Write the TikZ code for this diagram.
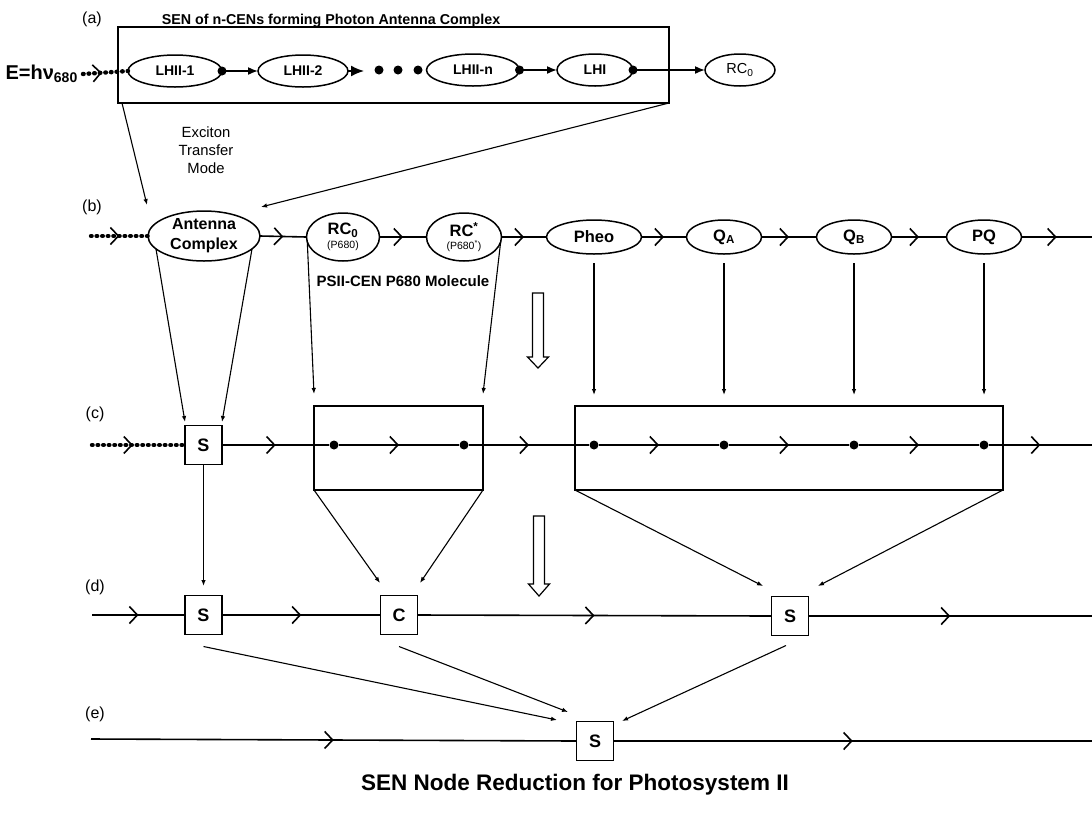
\documentclass[tikz,border=0pt]{standalone}
\usepackage{fontspec}
\setmainfont{Liberation Sans}
\usetikzlibrary{arrows.meta,decorations.markings,shapes.geometric}
\newcommand{\myfs}[1]{\fontsize{#1}{#1}\selectfont}
\begin{document}
\begin{tikzpicture}[x=1pt,y=-1pt,
  ln/.style={line width=1.6pt},
  thinar/.style={line width=1.1pt,-{Latex[length=6pt,width=4.5pt]}},
  ell/.style={ellipse,draw,line width=1.5pt,inner sep=0pt,outer sep=0pt},
  sq/.style={rectangle,draw,line width=1.5pt,inner sep=0pt,outer sep=0pt,minimum width=37pt,minimum height=39pt,font=\myfs{18}\bfseries},
  frame/.style={rectangle,draw,line width=1.5pt,inner sep=0pt,outer sep=0pt},
  dot/.style={circle,fill,inner sep=0pt,minimum size=9pt},
  beads/.style={line width=4.4pt,dash pattern=on 0.6pt off 5pt,line cap=round},
  chev/.style={postaction={decorate},decoration={markings,mark=at position #1 with {\arrow{Straight Barb[length=8pt,width=17pt,line width=1.6pt]}}}},
  chev/.default=0.5,
  fa/.style={ln,-{Latex[length=10pt,width=8pt]}},
  lbl/.style={font=\myfs{16}},
  bl/.style={font=\myfs{16.5}\bfseries,align=center},
  al/.style={font=\myfs{14}\bfseries},
]
\useasboundingbox (0,0) rectangle (1092,812);

% ---------- row (a)
\node[lbl] (la) at (92,19) {(a)};
\node[font=\myfs{14.3}\bfseries] (ttlA) at (331,21) {SEN of n-CENs forming Photon Antenna Complex};
\node[frame,minimum width=551pt,minimum height=76pt] (boxA) at (393.5,65) {};
\node[font=\myfs{20}\bfseries,anchor=east,inner sep=0pt] (E) at (78,74) {E=hν\textsubscript{680}};
\node[ell,al,minimum width=94pt,minimum height=32pt] (L1) at (175,71) {LHII-1};
\node[ell,al,minimum width=90pt,minimum height=32pt] (L2) at (303,71) {LHII-2};
\node[ell,al,minimum width=93pt,minimum height=32pt] (Ln) at (473,70) {LHII-n};
\node[ell,al,minimum width=76pt,minimum height=32pt] (LH) at (595,70) {LHI};
\node[ell,minimum width=70pt,minimum height=32pt,font=\myfs{14.5}] (RCa) at (740,70) {RC\textsubscript{0}};
\node[dot] (d1) at (379,70) {};
\node[dot] (d2) at (398,70) {};
\node[dot] (d3) at (418,70) {};
\coordinate (t2) at (364,71);

\draw[beads,chev=0.42] ([xshift=5pt]E.east) -- (L1.west);
\node[dot] at (L1.east) {};
\draw[fa] (L1.east) -- (L2.west);
\draw[ln,-{Latex[length=13pt,width=11pt]}] (L2.east) -- (t2);
\node[dot] at (Ln.east) {};
\draw[fa] (Ln.east) -- (LH.west);
\node[dot] at (LH.east) {};
\draw[fa] (LH.east) -- (RCa.west);

\node[font=\myfs{14.8},align=center] (exc) at (206,150) {Exciton\\[3pt]Transfer\\[3pt]Mode};

% ---------- row (b)
\node[lbl] (lb) at (92,207) {(b)};
\node[ell,bl,font=\myfs{16}\bfseries,minimum width=112pt,minimum height=50pt] (Ant) at (204,236) {Antenna\\[4pt]Complex};
\node[ell,bl,minimum width=73pt,minimum height=48pt] (RC0) at (343,237) {RC\textsubscript{0}\\[-3pt]{\mdseries\myfs{10.5}(P680)}};
\node[ell,bl,minimum width=75pt,minimum height=48pt] (RCs) at (464,237) {RC\textsuperscript{*}\\[-3pt]{\mdseries\myfs{10.5}(P680\textsuperscript{*})}};
\node[ell,bl,minimum width=95pt,minimum height=34pt] (Pheo) at (594,237) {Pheo};
\node[ell,bl,minimum width=75pt,minimum height=34pt] (QA) at (724,237) {Q\textsubscript{A}};
\node[ell,bl,minimum width=75pt,minimum height=34pt] (QB) at (854,237) {Q\textsubscript{B}};
\node[ell,bl,minimum width=75pt,minimum height=34pt] (PQ) at (984,237) {PQ};
\coordinate (bL) at (91,236);
\coordinate (bR) at (1092,237);
\draw[beads,chev=0.5] (bL) -- (Ant.west);
\draw[ln,chev] (Ant.east) -- (RC0.west);
\draw[ln,chev] (RC0.east) -- (RCs.west);
\draw[ln,chev] (RCs.east) -- (Pheo.west);
\draw[ln,chev] (Pheo.east) -- (QA.west);
\draw[ln,chev] (QA.east) -- (QB.west);
\draw[ln,chev] (QB.east) -- (PQ.west);
\draw[ln,chev] (PQ.east) -- (bR);
\node[font=\myfs{15}\bfseries] (psii) at (403,281) {PSII-CEN P680 Molecule};

% a -> b
\coordinate (aT1) at (147,205);
\coordinate (aT2) at (261,207);
\draw[thinar] ([xshift=4pt]boxA.south west) -- (aT1);
\draw[thinar] (boxA.south east) -- (aT2);

% hollow arrows
\draw[line width=1.2pt,fill=white] (532.5,293) -- (543.5,293) -- (543.5,357) -- (548.5,357) -- (538,368) -- (527.5,357) -- (532.5,357) -- cycle;
\draw[line width=1.2pt,fill=white] (533.5,516) -- (544.5,516) -- (544.5,584) -- (549.5,584) -- (539,596) -- (528.5,584) -- (533.5,584) -- cycle;

% ---------- row (c)
\node[lbl] (lc) at (95,414) {(c)};
\node[frame,minimum width=169pt,minimum height=84pt] (c1box) at (398.5,448) {};
\node[frame,minimum width=428pt,minimum height=84pt] (c2box) at (789,448) {};
\node[sq] (Sc) at (203.5,445) {S};
\node[dot] (c1a) at (334,445) {};
\node[dot] (c1b) at (464,445) {};
\node[dot] (c2a) at (594,445) {};
\node[dot] (c2b) at (724,445) {};
\node[dot] (c2c) at (854,445) {};
\node[dot] (c2d) at (984,445) {};
\coordinate (cL) at (92,445);
\coordinate (cR) at (1092,445);
\draw[beads,chev=0.44] (cL) -- (Sc.west);
\draw[ln,chev] (Sc.east) -- (c1a);
\draw[ln,chev] (c1a) -- (c1b);
\draw[ln,chev] (c1b) -- (c2a);
\draw[ln,chev] (c2a) -- (c2b);
\draw[ln,chev] (c2b) -- (c2c);
\draw[ln,chev] (c2c) -- (c2d);
\draw[ln,chev] (c2d) -- (cR);

% b -> c
\coordinate (bcT1) at (185,422);
\coordinate (bcT2) at (222,422);
\coordinate (bcT3) at (314,394);
\coordinate (bcT4) at (483,394);
\coordinate (bcT5) at (594,395);
\coordinate (bcT6) at (724,395);
\coordinate (bcT7) at (854,395);
\coordinate (bcT8) at (984,395);
\draw[thinar] (Ant.195) -- (bcT1);
\draw[thinar] (Ant.-15) -- (bcT2);
\draw[thinar] (RC0.188) -- (bcT3);
\draw[thinar] (RCs.-8) -- (bcT4);
\draw[thinar] ([yshift=-9pt]Pheo.south) -- (bcT5);
\draw[thinar] ([yshift=-9pt]QA.south) -- (bcT6);
\draw[thinar] ([yshift=-9pt]QB.south) -- (bcT7);
\draw[thinar] ([yshift=-9pt]PQ.south) -- (bcT8);

% ---------- row (d)
\node[lbl] (ld) at (95,587) {(d)};
\node[sq] (Sd) at (203.5,615) {S};
\node[sq] (Cd) at (399,615) {C};
\node[sq] (Sd2) at (790,616) {S};
\coordinate (dL) at (92,615);
\coordinate (dR) at (1092,616);
\draw[ln,chev] (dL) -- (Sd.west);
\draw[ln,chev] (Sd.east) -- (Cd.west);
\draw[ln,chev] (Cd.east) -- (Sd2.west);
\draw[ln,chev] (Sd2.east) -- (dR);

% c -> d
\coordinate (cdT1) at (203.5,586);
\coordinate (cdT2) at (380,583);
\coordinate (cdT3) at (420,583);
\coordinate (cdT4) at (763,586);
\coordinate (cdT5) at (818,586);
\draw[thinar] (Sc.south) -- (cdT1);
\draw[thinar] (c1box.south west) -- (cdT2);
\draw[thinar] (c1box.south east) -- (cdT3);
\draw[thinar] (c2box.south west) -- (cdT4);
\draw[thinar] (c2box.south east) -- (cdT5);

% ---------- row (e)
\node[lbl] (le) at (95,714) {(e)};
\node[sq] (Se) at (595,741) {S};
\coordinate (eL) at (91,739);
\coordinate (eR) at (1092,741);
\draw[ln,chev] (eL) -- (Se.west);
\draw[ln,chev] (Se.east) -- (eR);

% d -> e
\coordinate (deT1) at (557,720);
\coordinate (deT2) at (568,712);
\coordinate (deT3) at (622,721);
\draw[thinar] ([yshift=-12pt]Sd.south) -- (deT1);
\draw[thinar] ([yshift=-12pt]Cd.south) -- (deT2);
\draw[thinar] ([xshift=-4pt,yshift=-10pt]Sd2.south) -- (deT3);

% title
\node[font=\myfs{22.5}\bfseries] (title) at (575,785) {SEN Node Reduction for Photosystem II};
\end{tikzpicture}
\end{document}
